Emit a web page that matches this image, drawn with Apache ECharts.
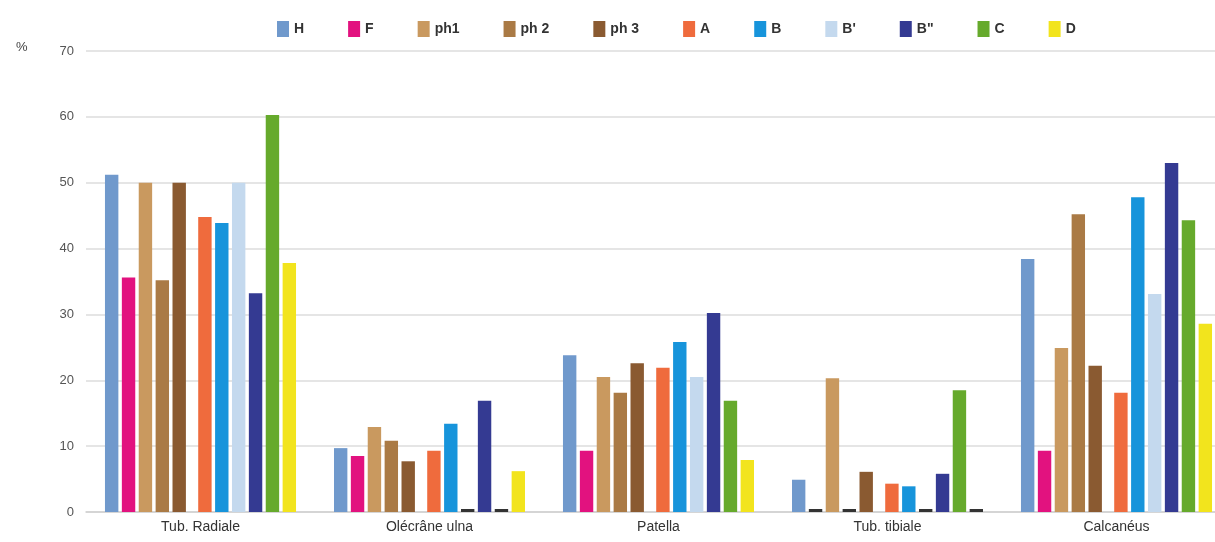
<!DOCTYPE html>
<html>
<head>
<meta charset="utf-8">
<script src="https://cdn.jsdelivr.net/npm/echarts@6/dist/echarts.min.js"></script>
<style>
html,body{margin:0;padding:0;background:#fff;}
#chart{width:1215px;height:542px;}
</style>
</head>
<body>
<div id="chart"></div>
<script>
const categories = ['Tub. Radiale', 'Olécrâne ulna', 'Patella', 'Tub. tibiale', 'Calcanéus'];
const yTicks = [0, 10, 20, 30, 40, 50, 60, 70];

const H   = [51.2, 9.7, 23.8, 4.9, 38.4];
const F   = [35.6, 8.5, 9.3, 0, 9.3];
const ph1 = [50.0, 12.9, 20.5, 20.3, 24.9];
const ph2 = [35.2, 10.8, 18.1, 0, 45.2];
const ph3 = [50.0, 7.7, 22.6, 6.1, 22.2];
const A   = [44.8, 9.3, 21.9, 4.3, 18.1];
const B   = [43.9, 13.4, 25.8, 3.9, 47.8];
const Bp  = [50.0, 0, 20.5, 0, 33.1];
const Bpp = [33.2, 16.9, 30.2, 5.8, 53.0];
const C   = [60.3, 0, 16.9, 18.5, 44.3];
const D   = [37.8, 6.2, 7.9, 0, 28.6];

const seriesDefs = [
  ['H', H, '#7099cc'],
  ['F', F, '#e2127f'],
  ['ph1', ph1, '#c9995f'],
  ['ph 2', ph2, '#aa7a45'],
  ['ph 3', ph3, '#8a5a31'],
  ['__gap', null, 'transparent'],
  ['A', A, '#ef6b3d'],
  ['B', B, '#1794db'],
  ["B'", Bp, '#c4d9ee'],
  ['B"', Bpp, '#343a92'],
  ['C', C, '#66aa2c'],
  ['D', D, '#f2e41d']
];

const series = seriesDefs.map(([name, vals, color]) => {
  if (vals === null) {
    return {name, type: 'bar', barWidth: 7, data: categories.map(() => null), silent: true};
  }
  return {
    name, type: 'bar', barWidth: 13.4, barGap: '26%', barMinHeight: 3,
    itemStyle: {color},
    data: vals.map(v => v === 0 ? {value: 0, itemStyle: {color: '#333333'}} : v)
  };
});

const chart = echarts.init(document.getElementById('chart'), null, {renderer: 'canvas'});
chart.setOption({
  backgroundColor: '#ffffff',
  animation: false,
  title: {
    text: '%', left: 11, top: 36,
    textStyle: {fontFamily: 'Liberation Sans', fontSize: 13, fontWeight: 'normal', color: '#444'}
  },
  legend: {
    data: seriesDefs.filter(d => d[1] !== null).map(d => d[0]),
    left: 272, top: 16,
    itemWidth: 12, itemHeight: 16, itemGap: 44,
    icon: 'rect',
    textStyle: {fontFamily: 'Liberation Sans', fontSize: 14, fontWeight: 'bold', color: '#333'}
  },
  grid: {left: 86, width: 1145, top: 51, height: 461, containLabel: false, outerBoundsMode: 'none'},
  xAxis: {
    type: 'category', data: categories,
    axisTick: {show: false},
    axisLine: {lineStyle: {color: '#cfcfcf', width: 1.5}},
    axisLabel: {fontFamily: 'Liberation Sans', fontSize: 14, color: '#333', margin: 8}
  },
  yAxis: {
    type: 'value', min: yTicks[0], max: yTicks[yTicks.length - 1], interval: 10,
    axisLine: {show: false}, axisTick: {show: false},
    splitLine: {lineStyle: {color: '#dcdcdc', width: 1.5}},
    axisLabel: {fontFamily: 'Liberation Sans', fontSize: 13, color: '#555', margin: 12}
  },
  series
});
</script>
</body>
</html>
